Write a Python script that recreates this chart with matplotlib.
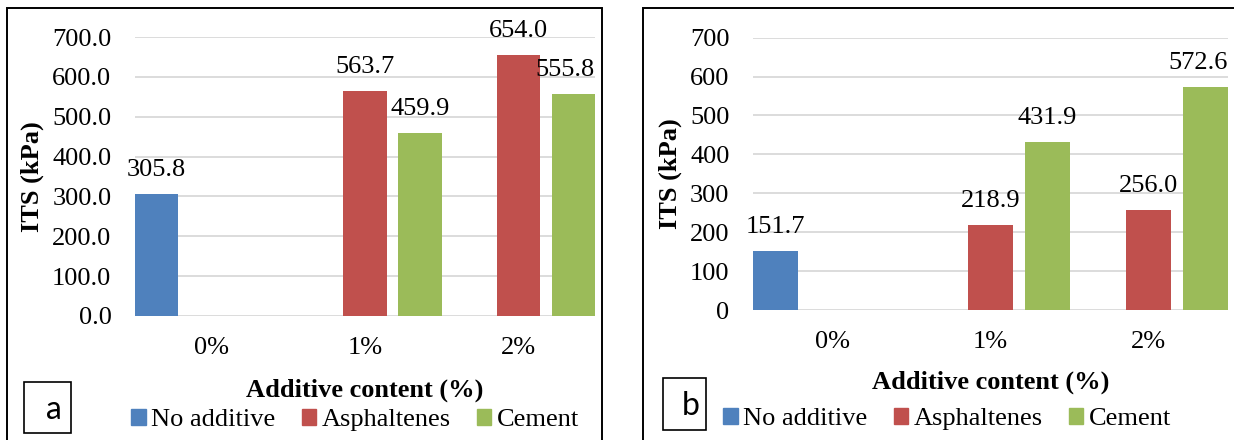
import numpy as np
import matplotlib
matplotlib.use("Agg")
import matplotlib.pyplot as plt
from matplotlib.patches import Patch, Rectangle

plt.rcParams['font.family'] = ['Liberation Serif', 'DejaVu Serif']

categories = ['0%', '1%', '2%']
series_names = ['No additive', 'Asphaltenes', 'Cement']
colors = ['#4f81bd', '#c0504d', '#9bbb59']

# panel a
its_a_none = [305.8, np.nan, np.nan]
its_a_asph = [np.nan, 563.7, 654.0]
its_a_cement = [np.nan, 459.9, 555.8]

# panel b
its_b_none = [151.7, np.nan, np.nan]
its_b_asph = [np.nan, 218.9, 256.0]
its_b_cement = [np.nan, 431.9, 572.6]

FS = 19
W, H = 1234, 440
fig = plt.figure(figsize=(W / 100, H / 100), dpi=100)


def px_rect(x0, y0, x1, y1):
    # pixel box (top-left origin) -> figure fraction [left, bottom, width, height]
    return [x0 / W, 1 - y1 / H, (x1 - x0) / W, (y1 - y0) / H]


def draw_panel(rect, series, tick_fmt, legend_center, xlabel_pad):
    ax = fig.add_axes(rect)
    x = np.arange(len(categories))
    width = 0.284
    offsets = [-0.359, 0.0, 0.359]
    labels = []
    for vals, off, col in zip(series, offsets, colors):
        vals = np.array(vals, dtype=float)
        ax.bar(x + off, np.nan_to_num(vals), width, color=col, zorder=3)
        for xi, v in zip(x, vals):
            if np.isnan(v):
                continue
            t = ax.annotate(f'{v:.1f}', xy=(xi + off, v), xytext=(0, 13),
                            textcoords='offset points', ha='center',
                            va='baseline', fontsize=FS, zorder=4)
            labels.append(t)
    ax.set_xlim(-0.5, 2.5)
    ax.set_ylim(0, 700)
    ax.set_yticks(np.arange(0, 701, 100))
    ax.set_yticklabels([tick_fmt.format(v) for v in np.arange(0, 701, 100)])
    ax.set_xticks(x)
    ax.set_xticklabels(categories)
    ax.tick_params(axis='both', length=0, labelsize=FS)
    ax.tick_params(axis='y', pad=17)
    ax.tick_params(axis='x', pad=15)
    ax.grid(axis='y', color='#d9d9d9', lw=1.3, zorder=0)
    ax.set_axisbelow(True)
    for s in ax.spines.values():
        s.set_visible(False)
    ax.set_ylabel('ITS (kPa)', fontsize=FS, fontweight='bold', labelpad=6)
    ax.set_xlabel('Additive content (%)', fontsize=FS, fontweight='bold',
                  labelpad=xlabel_pad)
    handles = [Patch(color=c, label=n) for c, n in zip(colors, series_names)]
    fig.legend(handles=handles, loc='center',
               bbox_to_anchor=(legend_center[0] / W, 1 - legend_center[1] / H),
               ncol=3, frameon=False, fontsize=FS, handlelength=0.55,
               handleheight=0.55, handletextpad=0.2, columnspacing=1.0,
               borderaxespad=0, borderpad=0)
    return ax, labels


ax_a, lab_a = draw_panel(px_rect(135, 37, 595, 316),
                         [its_a_none, its_a_asph, its_a_cement],
                         '{:.1f}', (355, 420), 14)
ax_b, lab_b = draw_panel(px_rect(753, 37.7, 1228, 310),
                         [its_b_none, its_b_asph, its_b_cement],
                         '{:.0f}', (947, 419), 13)

# keep value labels inside the plot area on the right side
fig.canvas.draw()
for ax, labels in ((ax_a, lab_a), (ax_b, lab_b)):
    right = ax.get_window_extent().x1
    for t in labels:
        bb = t.get_window_extent()
        if bb.x1 > right:
            dx = (bb.x1 - right) * 72 / fig.dpi
            t.xyann = (t.xyann[0] - dx, t.xyann[1])

# panel frames and panel letters
for x0, y0, x1, y1 in [(7, 8, 602, 446), (643, 8, 1240, 446)]:
    fig.add_artist(Rectangle((x0 / W, 1 - y1 / H), (x1 - x0) / W, (y1 - y0) / H,
                             transform=fig.transFigure, fill=False,
                             ec='black', lw=1.4))
for (x0, y0, x1, y1), letter, lx in [((24, 382, 71, 433), 'a', 54),
                                     ((663, 378, 706, 430), 'b', 691)]:
    fig.add_artist(Rectangle((x0 / W, 1 - y1 / H), (x1 - x0) / W, (y1 - y0) / H,
                             transform=fig.transFigure, fill=False,
                             ec='black', lw=1.2))
    fig.text(lx / W, 1 - ((y0 + y1) / 2 + 2) / H, letter, ha='center',
             va='center', fontsize=23, family=['Lato', 'DejaVu Sans'])

fig.savefig('out.png', dpi=100)
